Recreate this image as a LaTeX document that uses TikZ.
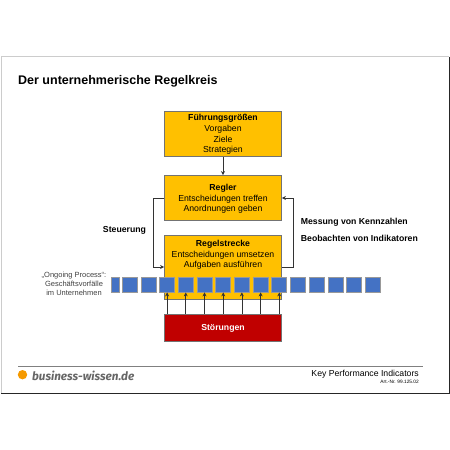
\documentclass[tikz,border=0pt]{standalone}
\usepackage{fontspec}
\setmainfont{Liberation Sans}
\newfontfamily\logofont{Fira Sans}
\usetikzlibrary{arrows.meta}
\definecolor{boxyellow}{HTML}{FFC000}
\definecolor{boxred}{HTML}{C00000}
\definecolor{boxblue}{HTML}{4472C4}
\definecolor{dotorange}{HTML}{F59A00}
\begin{document}
\begin{tikzpicture}[x=1pt,y=-1pt,font=\fontsize{8.7}{10.6}\selectfont,
  kasten/.style={draw=black!55,line width=0.8pt,fill=boxyellow,minimum width=117pt,align=center,inner sep=0pt,text depth=-2pt},
  quad/.style={draw=black!40,line width=0.8pt,fill=boxblue,minimum width=15pt,minimum height=15pt,inner sep=0pt},
  pfeil/.style={draw=black!80,line width=0.7pt,-{Stealth[length=4pt,width=4pt]}}]
  \useasboundingbox (0,0) rectangle (450,450);
  % frame
  \draw[black!20,line width=1pt] (1,393) -- (1,56.5) -- (449,56.5);
  \draw[black!85,line width=0.9pt] (449,56.5) -- (449,393) -- (1,393);
  \node[anchor=west,inner sep=0pt,font=\fontsize{12.5}{15}\selectfont\bfseries] (titel) at (18,81.3){Der unternehmerische Regelkreis};
  % boxes
  \node[kasten,minimum height=45.5pt] (fuehrung) at (223,133.7){\textbf{Führungsgrößen}\\Vorgaben\\Ziele\\Strategien};
  \node[kasten,minimum height=45pt] (regler) at (223,198){\textbf{Regler}\\Entscheidungen treffen\\Anordnungen geben};
  \node[kasten,minimum height=64pt] (strecke) at (223,267){\textbf{Regelstrecke}\\Entscheidungen umsetzen\\Aufgaben ausführen\\[15.4pt]\mbox{}};
  \node[kasten,fill=boxred,text=white,font=\fontsize{8.7}{10.6}\selectfont\bfseries,minimum height=26.5pt] (stoerung) at (223,327.7){Störungen};
  % process
  \node[quad,minimum width=7.7pt] (q0) at (115.2,284.5){};
  \foreach \n in {1,...,14}
    \node[quad] (q\n) at (111+\n*18.7,284.5){};
  \node[align=center,inner sep=0pt,text=black!75,font=\fontsize{7.5}{9}\selectfont] (process) at (74,283.7){„Ongoing Process“:\\Geschäftsvorfälle\\im Unternehmen};
  % connectors
  \draw[pfeil] (fuehrung) -- (regler);
  \draw[pfeil] (regler.west) -- ++(-10.8,0) |- (strecke.west);
  \draw[pfeil] (strecke.east) -- ++(11.3,0) |- (regler.east);
  \foreach \n in {3,...,9}
    \draw[pfeil] (stoerung.north -| q\n) -- (q\n.south);
  \node[inner sep=0pt,font=\fontsize{8.7}{10.6}\selectfont\bfseries] (steuerung) at (124.5,230.3){Steuerung};
  \node[anchor=west,inner sep=0pt,font=\fontsize{8.7}{10.6}\selectfont\bfseries] (messung) at (300.7,222.5){Messung von Kennzahlen};
  \node[anchor=west,inner sep=0pt,font=\fontsize{8.7}{10.6}\selectfont\bfseries] (beobachten) at (300.7,238.2){Beobachten von Indikatoren};
  % footer
  \draw[black!50,line width=0.7pt] (18,366.3) -- (423,366.3);
  \fill[dotorange] (22.5,374.7) circle[radius=4.7];
  \node[anchor=west,inner sep=0pt,text=black!60,font=\fontsize{11.7}{14}\logofont\bfseries\itshape] (logo) at (32,375.5){business-wissen.de};
  \node[anchor=east,inner sep=0pt,font=\fontsize{8.7}{11}\selectfont] (thema) at (419,374){Key Performance Indicators};
  \node[anchor=east,inner sep=0pt,font=\fontsize{4.8}{5}\selectfont] (artnr) at (419,382){Art.-Nr. 99.125.02};
\end{tikzpicture}
\end{document}
